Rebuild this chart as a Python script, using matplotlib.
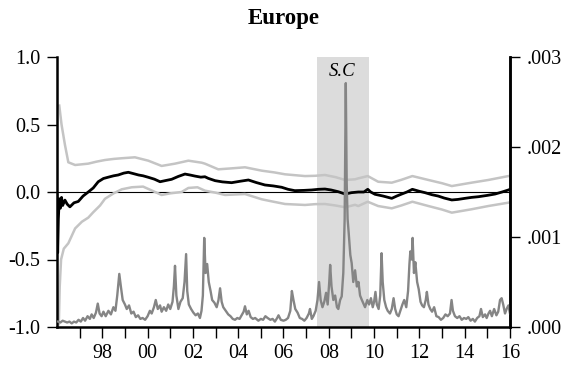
import matplotlib
matplotlib.use("Agg")

import matplotlib.pyplot as plt
from matplotlib.ticker import FixedLocator, FuncFormatter

plt.rcParams["font.family"] = ["Liberation Serif", "DejaVu Serif"]
plt.rcParams["axes.unicode_minus"] = False

# time-varying coefficient (left axis)
coef_t = [1996.0, 1996.03, 1996.06, 1996.1, 1996.15, 1996.2, 1996.25, 1996.35, 1996.45,
          1996.57, 1996.75, 1996.94, 1997.15, 1997.38, 1997.6, 1997.82, 1998.05, 1998.27,
          1998.5, 1998.7, 1998.95, 1999.15, 1999.4, 1999.6, 1999.8, 2000.03, 2000.3,
          2000.55, 2000.8, 2001.06, 2001.35, 2001.65, 2001.9, 2002.09, 2002.35, 2002.53,
          2002.68, 2002.98, 2003.3, 2003.71, 2004.1, 2004.45, 2004.8, 2005.18, 2005.55,
          2005.92, 2006.2, 2006.5, 2006.9, 2007.24, 2007.55, 2007.83, 2008.1, 2008.42,
          2008.72, 2009.0, 2009.3, 2009.55, 2009.72, 2009.85, 2010.04, 2010.4, 2010.78,
          2011.0, 2011.22, 2011.45, 2011.69, 2012.0, 2012.25, 2012.55, 2012.83, 2013.1,
          2013.43, 2013.7, 2014.01, 2014.3, 2014.6, 2015.0, 2015.34, 2015.65, 2015.93, 2016.0]
coef = [-0.02, -0.45, -0.2, -0.05, -0.12, -0.04, -0.1, -0.06, -0.09,
        -0.11, -0.08, -0.07, -0.03, 0.0, 0.03, 0.076, 0.1, 0.11,
        0.12, 0.126, 0.14, 0.146, 0.135, 0.126, 0.12, 0.109, 0.095,
        0.076, 0.085, 0.094, 0.115, 0.133, 0.125, 0.118, 0.11, 0.113,
        0.101, 0.084, 0.075, 0.069, 0.08, 0.089, 0.07, 0.052, 0.045,
        0.035, 0.02, 0.01, 0.012, 0.015, 0.02, 0.022, 0.015, 0.002,
        -0.015, -0.005, 0.0, 0.0, 0.02, 0.0, -0.017, -0.03, -0.047,
        -0.03, -0.015, 0.0, 0.02, 0.005, -0.005, -0.02, -0.03, -0.045,
        -0.059, -0.055, -0.047, -0.04, -0.035, -0.025, -0.015, 0.0, 0.015, 0.02]

# upper confidence band
up_t = [1996.1, 1996.2, 1996.35, 1996.5, 1996.8, 1997.38, 1997.75, 1998.12, 1998.5,
        1998.86, 1999.44, 2000.03, 2000.62, 2001.21, 2001.8, 2002.39, 2002.53, 2003.12,
        2003.7, 2004.3, 2005.04, 2005.6, 2006.07, 2006.95, 2007.4, 2007.83, 2008.3,
        2008.72, 2009.16, 2009.3, 2009.72, 2010.18, 2010.78, 2011.2, 2011.69, 2012.4,
        2013.0, 2013.43, 2014.3, 2015.04, 2015.93, 2016.0]
up = [0.64, 0.5, 0.35, 0.22, 0.2, 0.21, 0.225, 0.237, 0.245,
      0.25, 0.257, 0.232, 0.193, 0.21, 0.232, 0.217, 0.21, 0.168,
      0.175, 0.183, 0.158, 0.145, 0.131, 0.118, 0.12, 0.126, 0.11,
      0.089, 0.094, 0.101, 0.118, 0.076, 0.069, 0.09, 0.118, 0.089,
      0.065, 0.044, 0.069, 0.089, 0.118, 0.12]

# lower confidence band
lo_t = [1996.08, 1996.12, 1996.18, 1996.3, 1996.5, 1996.8, 1997.1, 1997.38, 1997.6,
        1997.9, 1998.12, 1998.5, 1998.86, 1999.3, 1999.8, 2000.2, 2000.62, 2001.0,
        2001.5, 2001.8, 2002.2, 2002.53, 2003.0, 2003.42, 2004.3, 2005.04, 2005.5,
        2006.07, 2006.95, 2007.4, 2007.83, 2008.3, 2008.72, 2009.16, 2009.3, 2009.72,
        2010.18, 2010.78, 2011.2, 2011.69, 2012.4, 2013.0, 2013.43, 2014.3, 2015.04,
        2015.93, 2016.0]
lo = [-0.98, -0.7, -0.5, -0.42, -0.38, -0.27, -0.22, -0.19, -0.15,
      -0.1, -0.05, -0.01, 0.02, 0.035, 0.04, 0.01, -0.022, -0.01,
      0.0, 0.03, 0.035, 0.01, -0.005, -0.022, -0.015, -0.054, -0.07,
      -0.089, -0.096, -0.09, -0.089, -0.1, -0.113, -0.095, -0.104, -0.072,
      -0.104, -0.121, -0.1, -0.072, -0.104, -0.13, -0.153, -0.128, -0.104,
      -0.079, -0.075]

# conditional variance (right axis, units of .001)
vol_t = [1996.05, 1996.15, 1996.25, 1996.35, 1996.45, 1996.55, 1996.65, 1996.75, 1996.85,
         1996.95, 1997.05, 1997.15, 1997.24, 1997.35, 1997.45, 1997.53, 1997.62, 1997.72,
         1997.8, 1997.88, 1997.97, 1998.05, 1998.15, 1998.27, 1998.38, 1998.49, 1998.58,
         1998.66, 1998.75, 1998.82, 1998.9, 1999.0, 1999.08, 1999.18, 1999.28, 1999.38,
         1999.48, 1999.58, 1999.68, 1999.78, 1999.89, 2000.0, 2000.1, 2000.18, 2000.28,
         2000.36, 2000.45, 2000.55, 2000.62, 2000.72, 2000.82, 2000.91, 2001.0, 2001.1,
         2001.16, 2001.21, 2001.27, 2001.36, 2001.45, 2001.55, 2001.63, 2001.7, 2001.75,
         2001.82, 2001.92, 2002.02, 2002.12, 2002.22, 2002.31, 2002.38, 2002.44, 2002.5,
         2002.56, 2002.63, 2002.7, 2002.78, 2002.85, 2002.95, 2003.05, 2003.13, 2003.2,
         2003.27, 2003.34, 2003.45, 2003.56, 2003.66, 2003.76, 2003.86, 2003.96, 2004.06,
         2004.15, 2004.24, 2004.3, 2004.38, 2004.46, 2004.55, 2004.65, 2004.75, 2004.89,
         2005.0, 2005.1, 2005.2, 2005.3, 2005.42, 2005.52, 2005.62, 2005.72, 2005.78,
         2005.88, 2006.0, 2006.1, 2006.2, 2006.3, 2006.37, 2006.44, 2006.52, 2006.62,
         2006.72, 2006.82, 2006.92, 2007.02, 2007.12, 2007.17, 2007.25, 2007.32, 2007.42,
         2007.5, 2007.57, 2007.64, 2007.72, 2007.8, 2007.88, 2007.95, 2008.02, 2008.06,
         2008.12, 2008.2, 2008.28, 2008.36, 2008.42, 2008.5, 2008.57, 2008.64, 2008.7,
         2008.75, 2008.79, 2008.83, 2008.88, 2008.95, 2009.01, 2009.08, 2009.16, 2009.24,
         2009.31, 2009.38, 2009.46, 2009.53, 2009.6, 2009.7, 2009.78, 2009.86, 2009.94,
         2010.0, 2010.06, 2010.12, 2010.2, 2010.27, 2010.33, 2010.38, 2010.45, 2010.53,
         2010.6, 2010.7, 2010.78, 2010.86, 2010.93, 2011.0, 2011.08, 2011.16, 2011.25,
         2011.33, 2011.42, 2011.5, 2011.56, 2011.6, 2011.66, 2011.7, 2011.76, 2011.82,
         2011.9, 2011.97, 2012.05, 2012.12, 2012.2, 2012.28, 2012.33, 2012.4, 2012.48,
         2012.56, 2012.65, 2012.75, 2012.85, 2012.95, 2013.05, 2013.15, 2013.25, 2013.35,
         2013.42, 2013.48, 2013.57, 2013.67, 2013.77, 2013.87, 2013.97, 2014.07, 2014.16,
         2014.26, 2014.36, 2014.45, 2014.55, 2014.65, 2014.72, 2014.8, 2014.9, 2014.97,
         2015.05, 2015.12, 2015.2, 2015.3, 2015.4, 2015.48, 2015.56, 2015.63, 2015.7,
         2015.78, 2015.85, 2015.93, 2016.0]
vol = [0.06, 0.05, 0.07, 0.06, 0.05, 0.06, 0.04, 0.06, 0.05,
       0.08, 0.06, 0.1, 0.07, 0.12, 0.09, 0.14, 0.1, 0.16,
       0.26, 0.15, 0.12, 0.17, 0.12, 0.18, 0.14, 0.22, 0.18,
       0.35, 0.59, 0.45, 0.3, 0.25, 0.2, 0.24, 0.15, 0.17,
       0.11, 0.13, 0.09, 0.1, 0.08, 0.12, 0.18, 0.15, 0.22,
       0.3, 0.2, 0.24, 0.17, 0.22, 0.18, 0.25, 0.2, 0.28,
       0.45, 0.68, 0.35, 0.2, 0.28, 0.32, 0.5, 0.81, 0.4,
       0.25, 0.2, 0.16, 0.13, 0.15, 0.1, 0.18, 0.35, 0.99,
       0.6, 0.7, 0.5, 0.4, 0.3, 0.27, 0.22, 0.3, 0.43,
       0.28, 0.22, 0.18, 0.14, 0.12, 0.09, 0.08, 0.1, 0.09,
       0.13, 0.17, 0.23, 0.14, 0.18, 0.11, 0.09, 0.1, 0.07,
       0.09, 0.08, 0.12, 0.1, 0.08, 0.09, 0.06, 0.1, 0.13,
       0.08, 0.07, 0.08, 0.1, 0.18, 0.4, 0.3, 0.2, 0.16,
       0.1, 0.09, 0.07, 0.1, 0.15, 0.2, 0.09, 0.12, 0.18,
       0.3, 0.5, 0.3, 0.22, 0.28, 0.38, 0.25, 0.5, 0.69,
       0.45, 0.3, 0.35, 0.22, 0.2, 0.3, 0.34, 0.6, 1.2,
       2.71, 1.6, 1.2, 1.04, 0.8, 0.71, 0.5, 0.63, 0.45,
       0.5, 0.35, 0.3, 0.26, 0.22, 0.3, 0.25, 0.32, 0.22,
       0.28, 0.39, 0.25, 0.2, 0.35, 0.82, 0.5, 0.3, 0.22,
       0.18, 0.15, 0.2, 0.32, 0.2, 0.14, 0.12, 0.18, 0.25,
       0.3, 0.22, 0.4, 0.7, 0.84, 0.75, 0.99, 0.6, 0.72,
       0.5, 0.42, 0.28, 0.24, 0.22, 0.3, 0.39, 0.25, 0.2,
       0.17, 0.22, 0.12, 0.11, 0.08, 0.1, 0.14, 0.12, 0.15,
       0.3, 0.18, 0.12, 0.1, 0.12, 0.08, 0.1, 0.09, 0.11,
       0.07, 0.09, 0.06, 0.1, 0.12, 0.2, 0.11, 0.14, 0.1,
       0.15, 0.18, 0.12, 0.2, 0.13, 0.17, 0.3, 0.32, 0.25,
       0.15, 0.2, 0.24, 0.15]

crisis = (2007.49, 2009.77)
year_ticks = list(range(1997, 2017))
year_labels = [f"{y % 100:02d}" if y % 2 == 0 else "" for y in year_ticks]

fig = plt.figure(figsize=(5.68, 3.69), dpi=100)
ax = fig.add_axes([57 / 568, 1 - 327 / 369, 453 / 568, 270 / 369])
ax2 = ax.twinx()

ax.axvspan(crisis[0], crisis[1], color="#dcdcdc", lw=0, zorder=0)
ax.axhline(0, color="black", lw=0.8, zorder=1)
ax.plot(up_t, up, color="#c4c4c4", lw=1.8, zorder=2)
ax.plot(lo_t, lo, color="#c4c4c4", lw=1.8, zorder=2)
ax.plot(coef_t, coef, color="black", lw=2.0, zorder=3)
ax2.plot(vol_t, vol, color="#858585", lw=1.7)

ax.text(2008.6, 0.89, "S.C", ha="center", va="center", style="italic", fontsize=13.5)

ax.set_xlim(1996.0, 2016.0)
ax.set_ylim(-1.0, 1.0)
ax2.set_ylim(0.0, 3.0)

ax.set_yticks([-1.0, -0.5, 0.0, 0.5, 1.0])
ax.yaxis.set_major_formatter(FuncFormatter(lambda v, p: f"{v:.1f}"))
ax2.set_yticks([0, 1, 2, 3])
ax2.yaxis.set_major_formatter(FuncFormatter(lambda v, p: f".{int(round(v)):03d}"))
ax.xaxis.set_major_locator(FixedLocator(year_ticks))
ax.set_xticklabels(year_labels)

for a in (ax, ax2):
    a.spines["top"].set_visible(False)
    for s in ("left", "right", "bottom"):
        a.spines[s].set_linewidth(1.8)
    a.tick_params(labelsize=14.5, direction="out", length=7, width=1, pad=5)
ax.tick_params(axis="x", length=8, pad=4)
ax2.spines["left"].set_visible(False)
ax2.spines["bottom"].set_visible(False)

fig.text(0.5, 0.95, "Europe", ha="center", va="center", fontsize=16.5, fontweight="bold")

fig.savefig("out.png", dpi=100)
